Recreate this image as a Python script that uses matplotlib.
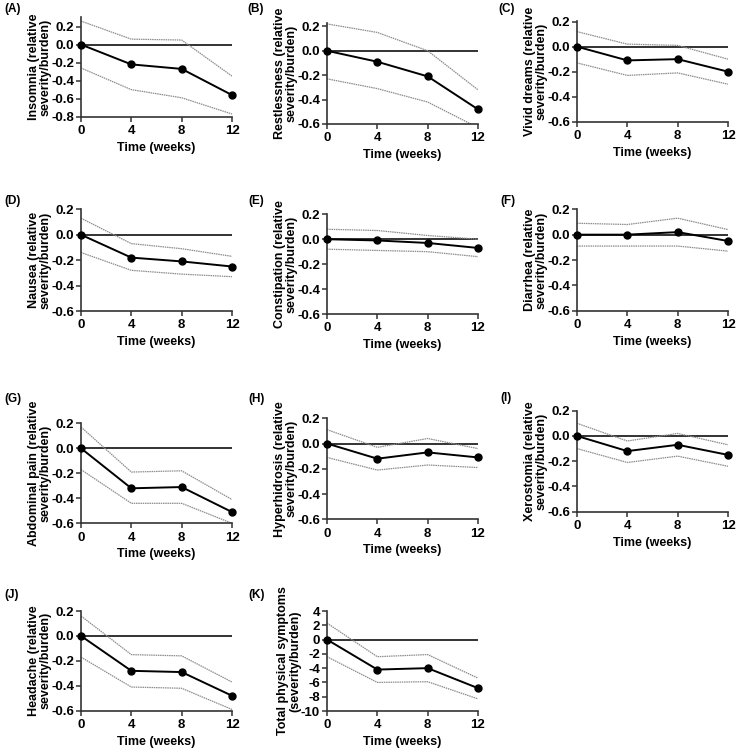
import numpy as np
import matplotlib.pyplot as plt

plt.rcParams['font.family'] = ['Liberation Sans', 'DejaVu Sans']
plt.rcParams['font.weight'] = 'bold'

# Data
weeks = [0, 4, 8, 12]

insomnia_mean = [0, -0.22, -0.27, -0.56]
insomnia_up = [0.26, 0.06, 0.05, -0.35]
insomnia_lo = [-0.26, -0.50, -0.59, -0.77]

restless_mean = [0, -0.09, -0.21, -0.48]
restless_up = [0.22, 0.15, 0.0, -0.32]
restless_lo = [-0.23, -0.31, -0.42, -0.63]

dreams_mean = [0, -0.11, -0.10, -0.20]
dreams_up = [0.12, 0.02, 0.01, -0.10]
dreams_lo = [-0.13, -0.23, -0.21, -0.30]

nausea_mean = [0, -0.18, -0.21, -0.25]
nausea_up = [0.13, -0.07, -0.11, -0.17]
nausea_lo = [-0.14, -0.28, -0.31, -0.33]

constip_mean = [0, -0.01, -0.03, -0.07]
constip_up = [0.08, 0.07, 0.03, 0.0]
constip_lo = [-0.08, -0.09, -0.10, -0.14]

diarrhea_mean = [0, 0.0, 0.02, -0.05]
diarrhea_up = [0.09, 0.08, 0.13, 0.04]
diarrhea_lo = [-0.09, -0.09, -0.09, -0.13]

abdominal_mean = [0, -0.32, -0.31, -0.51]
abdominal_up = [0.17, -0.19, -0.18, -0.41]
abdominal_lo = [-0.17, -0.44, -0.44, -0.60]

hyper_mean = [0, -0.12, -0.07, -0.11]
hyper_up = [0.11, -0.03, 0.04, -0.04]
hyper_lo = [-0.11, -0.21, -0.17, -0.19]

xero_mean = [0, -0.12, -0.07, -0.15]
xero_up = [0.10, -0.04, 0.02, -0.07]
xero_lo = [-0.10, -0.21, -0.16, -0.24]

headache_mean = [0, -0.28, -0.29, -0.48]
headache_up = [0.16, -0.15, -0.16, -0.37]
headache_lo = [-0.17, -0.41, -0.42, -0.59]

total_mean = [0, -4.2, -4.0, -6.8]
total_up = [2.3, -2.4, -2.1, -5.4]
total_lo = [-2.4, -6.0, -5.9, -8.3]

W, H = 737, 750
fig = plt.figure(figsize=(W / 100, H / 100), dpi=100)

cols = [(81, 232), (327, 478), (577, 728)]

# letter, label, mean, upper, lower, column, top px, bottom px, ylim, yticks, letter pos
panels = [
    ("(A)", "Insomnia (relative\nseverity/burden)", insomnia_mean, insomnia_up, insomnia_lo,
     0, 17.5, 116.7, (-0.8, 0.3), np.arange(-0.8, 0.21, 0.2), (4, 9)),
    ("(B)", "Restlessness (relative\nseverity/burden)", restless_mean, restless_up, restless_lo,
     1, 23.3, 124, (-0.6, 0.225), np.arange(-0.6, 0.21, 0.2), (247, 9)),
    ("(C)", "Vivid dreams (relative\nseverity/burden)", dreams_mean, dreams_up, dreams_lo,
     2, 21, 121.7, (-0.6, 0.205), np.arange(-0.6, 0.21, 0.2), (498, 9)),
    ("(D)", "Nausea (relative\nseverity/burden)", nausea_mean, nausea_up, nausea_lo,
     0, 209.3, 311, (-0.6, 0.2), np.arange(-0.6, 0.21, 0.2), (4, 201)),
    ("(E)", "Constipation (relative\nseverity/burden)", constip_mean, constip_up, constip_lo,
     1, 214.3, 314, (-0.6, 0.2), np.arange(-0.6, 0.21, 0.2), (248, 201)),
    ("(F)", "Diarrhea (relative\nseverity/burden)", diarrhea_mean, diarrhea_up, diarrhea_lo,
     2, 209.3, 310.7, (-0.6, 0.2), np.arange(-0.6, 0.21, 0.2), (500, 201)),
    ("(G)", "Abdominal pain (relative\nseverity/burden)", abdominal_mean, abdominal_up, abdominal_lo,
     0, 423.3, 523.3, (-0.6, 0.2), np.arange(-0.6, 0.21, 0.2), (4, 399)),
    ("(H)", "Hyperhidrosis (relative\nseverity/burden)", hyper_mean, hyper_up, hyper_lo,
     1, 418.3, 519.3, (-0.6, 0.2), np.arange(-0.6, 0.21, 0.2), (248, 399)),
    ("(I)", "Xerostomia (relative\nseverity/burden)", xero_mean, xero_up, xero_lo,
     2, 410.7, 511.7, (-0.6, 0.2), np.arange(-0.6, 0.21, 0.2), (500, 398)),
    ("(J)", "Headache (relative\nseverity/burden)", headache_mean, headache_up, headache_lo,
     0, 611, 710.7, (-0.6, 0.2), np.arange(-0.6, 0.21, 0.2), (4, 595)),
    ("(K)", "Total physical symptoms\n(severity/burden)", total_mean, total_up, total_lo,
     1, 611, 711, (-10, 4), np.arange(-10, 4.1, 2), (248, 595)),
]

spine_col = "#333333"

for letter, label, mean, up, lo, c, top, bot, ylim, yt, lpos in panels:
    x0, x1 = cols[c]
    ax = fig.add_axes([x0 / W, 1 - bot / H, (x1 - x0) / W, (bot - top) / H])
    ax.axhline(0, color="#222222", lw=1.3, zorder=1)
    ax.plot(weeks, up, color="#8c8c8c", lw=0.9, ls=(0, (1.2, 0.6)), zorder=2)
    ax.plot(weeks, lo, color="#8c8c8c", lw=0.9, ls=(0, (1.2, 0.6)), zorder=2)
    ax.plot(weeks, mean, color="black", lw=1.4, marker="o", ms=5,
            zorder=3, clip_on=False)
    ax.set_xlim(0, 12)
    ax.set_ylim(*ylim)
    ax.set_xticks(weeks)
    ax.set_yticks(yt)
    if ylim[0] == -10:
        ax.set_yticklabels([f"{v:.0f}" for v in yt])
    else:
        ax.set_yticklabels([f"{v:.1f}".replace("-0.0", "0.0") for v in yt])
    ax.tick_params(labelsize=9.5, length=3.5, width=1.1, color=spine_col, pad=1.5)
    ax.tick_params(axis="x", pad=2.5)
    for s in ["top", "right"]:
        ax.spines[s].set_visible(False)
    for s in ["left", "bottom"]:
        ax.spines[s].set_color(spine_col)
        ax.spines[s].set_linewidth(1.2)
    ax.set_xlabel("Time (weeks)", fontsize=9, fontweight="bold", labelpad=3.5)
    ax.set_ylabel(label, fontsize=9, fontweight="bold", labelpad=0, linespacing=0.95)
    fig.text(lpos[0] / W, 1 - lpos[1] / H, letter, fontsize=8.5, fontweight="bold",
             va="center", ha="left")

fig.savefig("out.png", dpi=100)
